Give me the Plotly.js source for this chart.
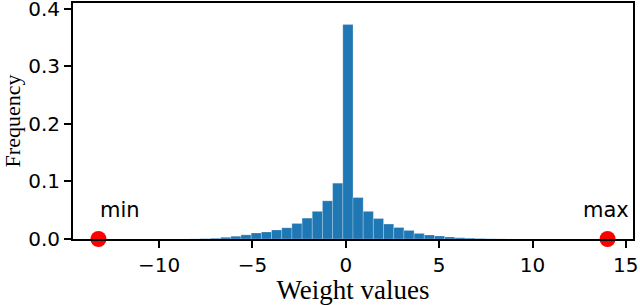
<!DOCTYPE html>
<html>
<head>
<meta charset="utf-8">
<script src="https://cdn.plot.ly/plotly-3.0.1.min.js"></script>
<style>html,body{margin:0;padding:0;background:#fff;}#chart{width:640px;height:305px;}</style>
</head>
<body>
<div id="chart"></div>
<script>
// Weight distribution: 50 equal bins spanning [minWeight, maxWeight]
const minWeight = -13.25;
const maxWeight = 14.02;
const binCount = 50;
const binFrequency = [
  0, 0, 0, 0, 0, 0, 0, 0, 0, 0.0002,
  0.0006, 0.0013, 0.003, 0.0048, 0.0072, 0.0104, 0.0122, 0.0156, 0.0195, 0.027,
  0.0363, 0.048, 0.0663, 0.097, 0.3725, 0.072, 0.048, 0.0356, 0.026, 0.020,
  0.0149, 0.0097, 0.007, 0.0052, 0.0035, 0.0022, 0.0015, 0.0009, 0.0004, 0.0002,
  0, 0, 0, 0, 0, 0, 0, 0, 0, 0
];
const extremeLabels = ["min", "max"];
const extremeValues = [minWeight, maxWeight];
const xTickVals = [-10, -5, 0, 5, 10, 15];
const yTickVals = [0, 0.1, 0.2, 0.3, 0.4];

const binWidth = (maxWeight - minWeight) / binCount;
const binCenters = binFrequency.map((_, i) => minWeight + (i + 0.5) * binWidth);

const pad = 0.05 * (maxWeight - minWeight);

const traces = [
  {
    type: 'bar',
    x: binCenters,
    y: binFrequency,
    width: binWidth,
    marker: { color: '#1f77b4', line: { color: 'rgba(255,255,255,0.3)', width: 0.8 } },
    hoverinfo: 'skip'
  },
  {
    type: 'scatter',
    mode: 'markers',
    x: extremeValues,
    y: [0, 0],
    marker: { color: '#ff0000', size: 16 },
    cliponaxis: false,
    hoverinfo: 'skip'
  }
];

const axisCommon = {
  showline: true, mirror: true, linecolor: '#000', linewidth: 2,
  ticks: 'outside', ticklen: 7, tickwidth: 2, tickcolor: '#000',
  showgrid: false, zeroline: false,
  ticklabeloverflow: 'allow',
  tickfont: { family: 'DejaVu Sans', size: 20, color: '#000' }
};

const layout = {
  width: 640, height: 305,
  margin: { l: 73, r: 7, t: 3, b: 66 },
  showlegend: false,
  plot_bgcolor: '#fff', paper_bgcolor: '#fff',
  bargap: 0,
  xaxis: Object.assign({}, axisCommon, {
    range: [minWeight - pad, maxWeight + pad],
    tickvals: xTickVals,
    title: { text: 'Weight values', font: { family: 'Liberation Serif', size: 27, color: '#000' }, standoff: 1 }
  }),
  yaxis: Object.assign({}, axisCommon, {
    range: [0, 0.41],
    tickvals: yTickVals,
    tickformat: '.1f',
    title: { text: 'Frequency', font: { family: 'Liberation Serif', size: 22, color: '#000' }, standoff: 14 }
  }),
  annotations: [
    { x: -12.09, y: 0.0508, xref: 'x', yref: 'y', text: extremeLabels[0], showarrow: false,
      font: { family: 'DejaVu Sans', size: 21, color: '#000' } },
    { x: 13.93, y: 0.0508, xref: 'x', yref: 'y', text: extremeLabels[1], showarrow: false,
      font: { family: 'DejaVu Sans', size: 21, color: '#000' } }
  ]
};

Plotly.newPlot('chart', traces, layout, { staticPlot: true, displayModeBar: false });
</script>
</body>
</html>
